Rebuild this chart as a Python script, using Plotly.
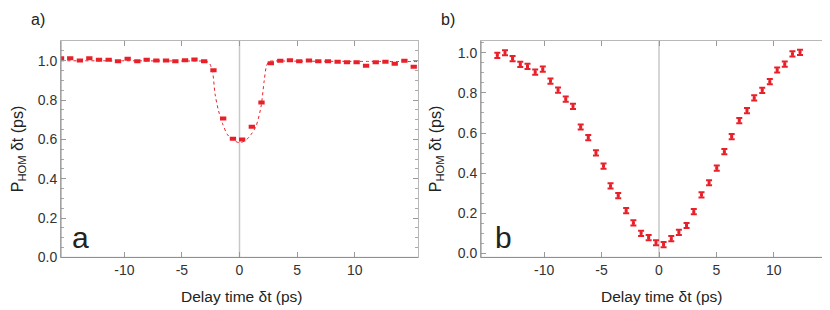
import plotly.graph_objects as go

# ---------------- data ----------------
# Panel a: measured points
a_x = [-15.5, -14.7, -13.86, -13.04, -12.2, -11.36, -10.55, -9.71, -8.87, -8.06,
       -7.22, -6.38, -5.57, -4.73, -3.91, -3.07, -2.26, -1.42, -0.57, 0.23,
       1.07, 1.91, 2.72, 3.54, 4.38, 5.19, 6.03, 6.84, 7.68, 8.52,
       9.33, 10.17, 10.99, 11.83, 12.67, 13.48, 14.32, 15.13]
a_y = [1.013, 1.013, 1.002, 1.013, 1.005, 1.005, 0.997, 1.010, 0.997, 1.005,
       1.002, 1.002, 0.998, 1.003, 1.007, 0.998, 0.952, 0.707, 0.604, 0.599,
       0.664, 0.788, 0.987, 1.000, 1.003, 0.998, 1.002, 0.997, 0.998, 0.995,
       0.992, 0.993, 0.975, 0.992, 0.995, 0.985, 1.000, 0.970]

# Panel a: fit curve
fit_x = [-15.5, -10.0, -5.0, -3.6, -3.0, -2.64, -2.35, -2.12, -1.83, -1.48, -1.04, -0.6,
         0.0, 0.55, 0.99, 1.42, 1.86, 2.14, 2.35, 2.58, 3.0, 3.6, 5.0, 10.0, 15.5]
fit_y = [1.000, 1.000, 0.999, 0.999, 0.998, 0.990, 0.946, 0.830, 0.748, 0.682, 0.624, 0.599,
         0.583, 0.596, 0.624, 0.665, 0.764, 0.896, 0.975, 0.997, 0.999, 0.999, 0.998, 0.997, 0.996]

# Panel b: measured points with error bars
b_x = [-14.08, -13.41, -12.75, -12.08, -11.45, -10.78, -10.12, -9.45, -8.79, -8.12,
       -7.49, -6.82, -6.16, -5.49, -4.83, -4.22, -3.55, -2.86, -2.23, -1.56,
       -0.90, -0.26, 0.40, 1.07, 1.73, 2.40, 3.03, 3.70, 4.36, 5.03,
       5.69, 6.33, 6.99, 7.66, 8.29, 8.99, 9.65, 10.29, 10.95, 11.62, 12.28]
b_y = [0.987, 1.000, 0.971, 0.942, 0.932, 0.903, 0.918, 0.859, 0.814, 0.769,
       0.733, 0.630, 0.577, 0.501, 0.435, 0.336, 0.288, 0.213, 0.152, 0.100,
       0.079, 0.053, 0.044, 0.073, 0.105, 0.139, 0.208, 0.292, 0.352, 0.425,
       0.507, 0.582, 0.662, 0.712, 0.775, 0.813, 0.856, 0.914, 0.943, 0.994, 1.002]
b_err = [0.013] * len(b_x)

x_tickvals = [-10, -5, 0, 5, 10]
x_ticktext = ["-10", "-5", "0", "5", "10"]
y_tickvals = [0.0, 0.2, 0.4, 0.6, 0.8, 1.0]
y_ticktext = ["0.0", "0.2", "0.4", "0.6", "0.8", "1.0"]

RED = "#e8202a"
FONT = "Liberation Sans, Arial, sans-serif"
W, H = 830, 310

fig = go.Figure()
fig.add_trace(go.Scatter(x=fit_x, y=fit_y, mode="lines",
                         line=dict(color=RED, width=1, dash="dot", shape="spline", smoothing=0.8),
                         xaxis="x", yaxis="y", showlegend=False))
fig.add_trace(go.Scatter(x=a_x, y=a_y, mode="markers",
                         marker=dict(symbol="line-ew", size=4.5, color=RED,
                                     line=dict(color=RED, width=4)),
                         xaxis="x", yaxis="y", showlegend=False))
fig.add_trace(go.Scatter(x=b_x, y=b_y, mode="markers",
                         marker=dict(symbol="square", size=3, color=RED),
                         error_y=dict(type="data", array=b_err, color=RED, thickness=2, width=3),
                         xaxis="x2", yaxis="y2", showlegend=False))

def xax(domain, anchor):
    return dict(domain=domain, anchor=anchor, range=[-15.5, 15.5], showgrid=False, zeroline=False,
                showline=True, linecolor="#b8b8b8", linewidth=1, mirror="ticks",
                ticks="inside", ticklen=5, tickcolor="#999999",
                tickvals=x_tickvals, ticktext=x_ticktext,
                tickfont=dict(family=FONT, size=14, color="#333333"))

def yax(domain, anchor, rng):
    return dict(domain=domain, anchor=anchor, range=rng, showgrid=False, zeroline=False,
                showline=True, linecolor="#b8b8b8", linewidth=1, mirror="ticks",
                ticks="inside", ticklen=5, tickcolor="#999999",
                tickvals=y_tickvals, ticktext=y_ticktext,
                minor=dict(dtick=0.05, ticks="inside", ticklen=3, tickcolor="#aaaaaa"),
                tickfont=dict(family=FONT, size=14, color="#333333"))

ydom = [1 - 256 / H, 1 - 34 / H]
fig.update_layout(
    width=W, height=H, margin=dict(l=0, r=0, t=0, b=0),
    paper_bgcolor="white", plot_bgcolor="white",
    xaxis=xax([53 / W, 410 / W], "y"),
    yaxis=yax(ydom, "x", [0, 1.1]),
    xaxis2=xax([473 / W, 829 / W], "y2"),
    yaxis2=yax(ydom, "x2", [-0.02, 1.058]),
)

shapes = []
for xr, yr in (("x", "y"), ("x2", "y2")):
    shapes.append(dict(type="line", xref=xr, yref=yr + " domain", x0=0, x1=0, y0=0, y1=1,
                       line=dict(color="#c8c8c8", width=1.5), layer="below"))
    shapes.append(dict(type="line", xref=xr + " domain", yref=yr + " domain", x0=0, x1=0, y0=0, y1=1,
                       line=dict(color="#8a8a8a", width=1)))
    shapes.append(dict(type="line", xref=xr + " domain", yref=yr + " domain", x0=0, x1=1, y0=0, y1=0,
                       line=dict(color="#8a8a8a", width=1)))
fig.update_layout(shapes=shapes)

def ann(text, x, y, size, **kw):
    d = dict(text=text, x=x / W, y=1 - y / H, xref="paper", yref="paper", showarrow=False,
             xanchor="center", yanchor="middle",
             font=dict(family=FONT, size=size, color="#222222"))
    d.update(kw)
    return d

annotations = [
    ann("a)", 30, 12, 16),
    ann("b)", 440, 12, 16),
    ann("a", 72, 236, 30),
    ann("b", 495, 236, 30),
    ann("Delay time δt (ps)", 233, 296, 15.5),
    ann("Delay time δt (ps)", 653, 296, 15.5),
    ann("P<sub>HOM</sub> δt (ps)", 10, 145, 16, textangle=-90),
    ann("P<sub>HOM</sub> δt (ps)", 428, 145, 16, textangle=-90),
]
fig.update_layout(annotations=annotations)

fig.write_html("out.html")
